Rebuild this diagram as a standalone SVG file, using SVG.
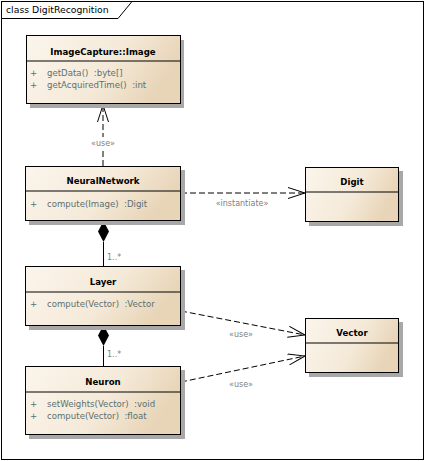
<svg xmlns="http://www.w3.org/2000/svg" width="425" height="461" viewBox="0 0 425 461">
<style>
.frame{fill:#fff;stroke:#000;stroke-width:1}
.box{fill:url(#g);stroke:#000;stroke-width:1}
.sh{fill:#a8a8a8}
.sep{stroke:#000;stroke-width:1}
.title{font-family:"DejaVu Sans",sans-serif;font-size:8.6px;font-weight:bold;fill:#000;text-anchor:middle}
.attr{font-family:"DejaVu Sans",sans-serif;font-size:8.6px;fill:#5b7070;white-space:pre}
.lbl{font-family:"DejaVu Sans",sans-serif;font-size:8px;fill:#808080;text-anchor:middle}
.ftitle{font-family:"DejaVu Sans",sans-serif;font-size:9.3px;fill:#000}
.dep{fill:none;stroke:#000;stroke-width:1;stroke-dasharray:6,3}
.solid{fill:none;stroke:#000;stroke-width:1}
</style>
<defs>
<linearGradient id="g" x1="0" y1="0" x2="1" y2="0.3">
<stop offset="0" stop-color="#fbf5ec"/>
<stop offset="0.6" stop-color="#f5ead9"/>
<stop offset="1" stop-color="#e8d5b8"/>
</linearGradient>
<marker id="open" markerWidth="20" markerHeight="14" refX="17" refY="6" orient="auto" markerUnits="userSpaceOnUse">
<path d="M0,0.5 L17,6 L0,11.5" fill="none" stroke="#000" stroke-width="1"/>
</marker>
</defs>

<g id="frame">
<rect class="frame" x="1.5" y="1.5" width="422" height="458"/>
<path class="solid" d="M1.5,18.5 H118 L132,1.5"/>
<text class="ftitle" x="6" y="13">class DigitRecognition</text>
</g>

<g id="connectors">
<line class="dep" x1="103" y1="166" x2="103" y2="105" marker-end="url(#open)"/>
<rect x="86" y="137" width="34" height="11" fill="#fff"/>
<text class="lbl" x="103" y="146">«use»</text>
<line class="dep" x1="181" y1="193" x2="305" y2="193" marker-end="url(#open)"/>
<text class="lbl" x="242" y="206">«instantiate»</text>
<line class="dep" x1="181" y1="311" x2="305" y2="335" marker-end="url(#open)"/>
<text class="lbl" x="241" y="337">«use»</text>
<line class="dep" x1="181" y1="382" x2="305" y2="356" marker-end="url(#open)"/>
<text class="lbl" x="241" y="387">«use»</text>
<path d="M103.5,221 L109,231.5 L103.5,242 L98,231.5 Z" fill="#000"/>
<line class="solid" x1="103.5" y1="242" x2="103.5" y2="266"/>
<text class="lbl" x="107" y="260" style="text-anchor:start">1..*</text>
<path d="M103.5,325 L109,335.5 L103.5,346 L98,335.5 Z" fill="#000"/>
<line class="solid" x1="103.5" y1="346" x2="103.5" y2="366"/>
<text class="lbl" x="107" y="357" style="text-anchor:start">1..*</text>
</g>

<g id="image">
<rect class="sh" x="30" y="40" width="154" height="68"/>
<rect class="box" x="26.5" y="35.5" width="154" height="68"/>
<line class="sep" x1="26.5" y1="61" x2="180.5" y2="61"/>
<text class="title" x="103" y="55">ImageCapture::Image</text>
<text class="attr" x="30" y="76">+</text>
<text class="attr" x="47" y="76">getData()  :byte[]</text>
<text class="attr" x="30" y="88">+</text>
<text class="attr" x="47" y="88">getAcquiredTime()  :int</text>
</g>

<g id="neuralnetwork">
<rect class="sh" x="29" y="170" width="156" height="55"/>
<rect class="box" x="25.5" y="166.5" width="155" height="54"/>
<line class="sep" x1="25.5" y1="191" x2="180.5" y2="191"/>
<text class="title" x="103" y="184">NeuralNetwork</text>
<text class="attr" x="30" y="207">+</text>
<text class="attr" x="47" y="207">compute(Image)  :Digit</text>
</g>

<g id="digit">
<rect class="sh" x="309" y="171" width="94" height="55"/>
<rect class="box" x="305.5" y="167.5" width="93" height="54"/>
<line class="sep" x1="305.5" y1="192" x2="398.5" y2="192"/>
<text class="title" x="352" y="185">Digit</text>
</g>

<g id="layer">
<rect class="sh" x="29" y="270" width="156" height="60"/>
<rect class="box" x="25.5" y="266.5" width="155" height="59"/>
<line class="sep" x1="25.5" y1="292" x2="180.5" y2="292"/>
<text class="title" x="103" y="285">Layer</text>
<text class="attr" x="30" y="307">+</text>
<text class="attr" x="47" y="307">compute(Vector)  :Vector</text>
</g>

<g id="vector">
<rect class="sh" x="309" y="322" width="94" height="55"/>
<rect class="box" x="305.5" y="318.5" width="93" height="54"/>
<line class="sep" x1="305.5" y1="343" x2="398.5" y2="343"/>
<text class="title" x="352" y="336">Vector</text>
</g>

<g id="neuron">
<rect class="sh" x="29" y="370" width="156" height="69"/>
<rect class="box" x="25.5" y="366.5" width="155" height="68"/>
<line class="sep" x1="25.5" y1="392" x2="180.5" y2="392"/>
<text class="title" x="103" y="385">Neuron</text>
<text class="attr" x="30" y="407">+</text>
<text class="attr" x="47" y="407">setWeights(Vector)  :void</text>
<text class="attr" x="30" y="419">+</text>
<text class="attr" x="47" y="419">compute(Vector)  :float</text>
</g>
</svg>
